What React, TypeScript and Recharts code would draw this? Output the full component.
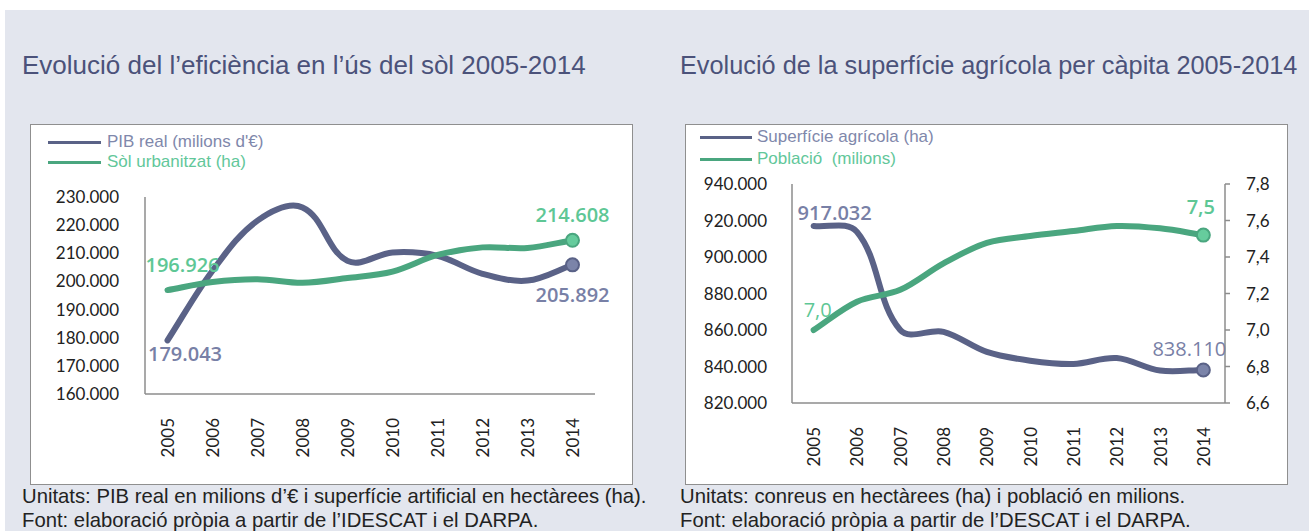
import React from 'react';
import { ComposedChart, Line, XAxis, YAxis } from 'recharts';

// ---------- data ----------
const years = ['2005', '2006', '2007', '2008', '2009', '2010', '2011', '2012', '2013', '2014'];

// left chart
const pibReal = [179043, 203800, 221600, 226300, 207300, 210300, 209100, 202700, 200300, 205892];
const solUrbanitzat = [196926, 199800, 200800, 199500, 201200, 203500, 209400, 212100, 211900, 214608];
const leftTicks = [160000, 170000, 180000, 190000, 200000, 210000, 220000, 230000];

// right chart
const superficieAgricola = [917032, 913800, 860000, 859000, 848000, 843200, 841400, 844600, 837800, 838110];
const poblacio = [7.0, 7.155, 7.22, 7.365, 7.478, 7.515, 7.542, 7.57, 7.557, 7.52];
const agriTicks = [820000, 840000, 860000, 880000, 900000, 920000, 940000];
const popTicks = [6.6, 6.8, 7.0, 7.2, 7.4, 7.6, 7.8];

const leftData = years.map((y, i) => ({ year: y, pib: pibReal[i], sol: solUrbanitzat[i] }));
const rightData = years.map((y, i) => ({ year: y, agri: superficieAgricola[i], pop: poblacio[i] }));

// ---------- styles ----------
const BLUE = '#5a6287';
const BLUE_DOT = '#7b84a9';
const BLUE_TXT = '#7880a6';
const GREEN = '#4aa67f';
const GREEN_DOT = '#66cc9d';
const GREEN_TXT = '#5ec795';
const AXIS = '#8c8c8c';
const TITLE = '#4b527a';

const thousands = (v: number) => String(Math.round(v)).replace(/\B(?=(\d{3})+(?!\d))/g, '.');
const comma1 = (v: number) => v.toFixed(1).replace('.', ',');

const tickStyle = { fontFamily: 'Lato, "Liberation Sans", sans-serif', fontSize: 17, fill: '#222' };

// Excel-like smoothed line: tangent direction from neighbours, control distance
// proportional to the chord length of each segment.
const smoothCurve: any = (context: any) => {
  let pts: [number, number][] = [];
  const dirAt = (i: number): [number, number] => {
    const a = pts[Math.max(0, i - 1)];
    const b = pts[Math.min(pts.length - 1, i + 1)];
    const dx = b[0] - a[0];
    const dy = b[1] - a[1];
    const L = Math.hypot(dx, dy) || 1;
    return [dx / L, dy / L];
  };
  return {
    areaStart() {},
    areaEnd() {},
    lineStart() {
      pts = [];
    },
    lineEnd() {
      if (!pts.length) return;
      context.moveTo(pts[0][0], pts[0][1]);
      const k = 1 / 3;
      for (let i = 0; i < pts.length - 1; i++) {
        const p1 = pts[i];
        const p2 = pts[i + 1];
        const d = Math.hypot(p2[0] - p1[0], p2[1] - p1[1]);
        const t1 = dirAt(i);
        const t2 = dirAt(i + 1);
        context.bezierCurveTo(
          p1[0] + t1[0] * d * k,
          p1[1] + t1[1] * d * k,
          p2[0] - t2[0] * d * k,
          p2[1] - t2[1] * d * k,
          p2[0],
          p2[1]
        );
      }
    },
    point(x: number, y: number) {
      pts.push([+x, +y]);
    },
  };
};

const YearTick = (props: any) => {
  const { x, y, payload } = props;
  return (
    <text
      transform={`translate(${x},${y}) rotate(-90)`}
      x={-24}
      y={0}
      textAnchor="end"
      dominantBaseline="central"
      style={tickStyle}
    >
      {payload.value}
    </text>
  );
};

type LblCfg = { dx: number; dy: number; text: string; weight: number };

const makeLabel = (series: number[], color: string, first: LblCfg, last: LblCfg) => (props: any) => {
  const { x, y, value } = props;
  const idx = typeof props.index === 'number' ? props.index : series.indexOf(value);
  if (idx !== 0 && idx !== series.length - 1) return null;
  const c = idx === 0 ? first : last;
  return (
    <text
      key={`lbl-${idx}`}
      x={x + c.dx}
      y={y + c.dy}
      textAnchor="middle"
      fill={color}
      style={{ fontFamily: '"Open Sans", "Noto Sans", sans-serif', fontSize: 20, fontWeight: c.weight }}
    >
      {c.text}
    </text>
  );
};

const makeDot = (n: number, fill: string, stroke: string) => (props: any) => {
  const { cx, cy, index } = props;
  if (index !== n - 1) return <g key={`d-${index}`} />;
  return <circle key={`d-${index}`} cx={cx} cy={cy} r={6.5} fill={fill} stroke={stroke} strokeWidth={2} />;
};

const LegendRow = ({ left, top, lineW, textX, color, textColor, label }: any) => (
  <div style={{ position: 'absolute', left: 0, top: top - 12, height: 24, width: 400 }}>
    <div style={{ position: 'absolute', left, top: 10.5, width: lineW, height: 3, background: color }} />
    <div
      style={{
        position: 'absolute',
        left: textX,
        top: 0,
        lineHeight: '24px',
        fontSize: 17,
        color: textColor,
        whiteSpace: 'pre',
        fontFamily: '"Liberation Sans", Arial, sans-serif',
      }}
    >
      {label}
    </div>
  </div>
);

const boxStyle = (left: number): React.CSSProperties => ({
  position: 'absolute',
  left,
  top: 124,
  width: 603,
  height: 361,
  background: '#fff',
  border: '1.5px solid #8f8f8f',
  boxSizing: 'border-box',
});

const titleStyle = (left: number, size: number): React.CSSProperties => ({
  position: 'absolute',
  left,
  top: 52,
  fontSize: size,
  lineHeight: '26px',
  color: TITLE,
  whiteSpace: 'nowrap',
  fontFamily: '"Liberation Sans", Arial, sans-serif',
});

const noteStyle = (left: number, top: number): React.CSSProperties => ({
  position: 'absolute',
  left,
  top,
  fontSize: 20.3,
  lineHeight: '24px',
  color: '#222',
  whiteSpace: 'nowrap',
  fontFamily: '"Liberation Sans", Arial, sans-serif',
});

export default function App() {
  return (
    <div
      style={{
        position: 'absolute',
        left: 0,
        top: 0,
        width: 1309,
        height: 531,
        background: '#fff',
        overflow: 'hidden',
      }}
    >
      <div style={{ position: 'absolute', left: 5, top: 10, right: 0, bottom: 0, background: '#e3e6ee' }} />

      <div style={titleStyle(22, 26)}>Evolució del l’eficiència en l’ús del sòl 2005-2014</div>
      <div style={titleStyle(680, 25.3)}>Evolució de la superfície agrícola per càpita 2005-2014</div>

      {/* left chart */}
      <div style={boxStyle(30)} />
      <div style={{ position: 'absolute', left: 30, top: 124, width: 603, height: 361 }}>
        <ComposedChart
          width={603}
          height={361}
          data={leftData}
          margin={{ top: 73, right: 38, bottom: 31, left: 0 }}
        >
          <XAxis
            dataKey="year"
            height={60}
            padding={{ left: 22.5, right: 22.5 }}
            tickLine={false}
            tickSize={0}
            tickMargin={0}
            axisLine={{ stroke: AXIS, strokeWidth: 1.5 }}
            tick={<YearTick />}
            interval={0}
          />
          <YAxis
            width={115}
            domain={[160000, 230000]}
            ticks={leftTicks}
            tickFormatter={thousands}
            tickLine={false}
            tickSize={0}
            tickMargin={26}
            axisLine={{ stroke: AXIS, strokeWidth: 1.5 }}
            tick={tickStyle}
            interval={0}
          />
          <Line
            dataKey="pib"
            type={smoothCurve}
            stroke={BLUE}
            strokeWidth={6}
            strokeLinecap="round"
            isAnimationActive={false}
            dot={makeDot(years.length, BLUE_DOT, BLUE)}
            activeDot={false}
            label={makeLabel(
              pibReal,
              BLUE_TXT,
              { dx: 17.5, dy: 21, text: thousands(pibReal[0]), weight: 600 },
              { dx: 0, dy: 37, text: thousands(pibReal[pibReal.length - 1]), weight: 600 }
            )}
          />
          <Line
            dataKey="sol"
            type={smoothCurve}
            stroke={GREEN}
            strokeWidth={6}
            strokeLinecap="round"
            isAnimationActive={false}
            dot={makeDot(years.length, GREEN_DOT, GREEN)}
            activeDot={false}
            label={makeLabel(
              solUrbanitzat,
              GREEN_TXT,
              { dx: 15, dy: -18, text: thousands(solUrbanitzat[0]), weight: 600 },
              { dx: 0, dy: -18, text: thousands(solUrbanitzat[solUrbanitzat.length - 1]), weight: 600 }
            )}
          />
        </ComposedChart>
        <LegendRow left={18} top={18} lineW={53} textX={77} color={BLUE} textColor="#7f88ab" label="PIB real (milions d'€)" />
        <LegendRow left={18} top={38} lineW={53} textX={77} color={GREEN} textColor="#62c79a" label="Sòl urbanitzat (ha)" />
      </div>

      {/* right chart */}
      <div style={boxStyle(685)} />
      <div style={{ position: 'absolute', left: 685, top: 124, width: 603, height: 361 }}>
        <ComposedChart
          width={603}
          height={361}
          data={rightData}
          margin={{ top: 60, right: 0, bottom: 22, left: 0 }}
        >
          <XAxis
            dataKey="year"
            height={60}
            padding={{ left: 21.65, right: 21.65 }}
            tickLine={false}
            tickSize={0}
            tickMargin={0}
            axisLine={{ stroke: AXIS, strokeWidth: 1.5 }}
            tick={<YearTick />}
            interval={0}
          />
          <YAxis
            yAxisId="left"
            width={107}
            domain={[820000, 940000]}
            ticks={agriTicks}
            tickFormatter={thousands}
            tickLine={false}
            tickSize={0}
            tickMargin={25}
            axisLine={{ stroke: AXIS, strokeWidth: 1.5 }}
            tick={tickStyle}
            interval={0}
          />
          <YAxis
            yAxisId="right"
            orientation="right"
            width={63}
            domain={[6.6, 7.8]}
            ticks={popTicks}
            tickFormatter={comma1}
            tickLine={{ stroke: AXIS, strokeWidth: 1.5 }}
            tickSize={5}
            tickMargin={16}
            axisLine={{ stroke: AXIS, strokeWidth: 1.5 }}
            tick={tickStyle}
            interval={0}
          />
          <Line
            yAxisId="left"
            dataKey="agri"
            type={smoothCurve}
            stroke={BLUE}
            strokeWidth={6}
            strokeLinecap="round"
            isAnimationActive={false}
            dot={makeDot(years.length, BLUE_DOT, BLUE)}
            activeDot={false}
            label={makeLabel(
              superficieAgricola,
              BLUE_TXT,
              { dx: 21, dy: -6, text: thousands(superficieAgricola[0]), weight: 600 },
              { dx: -14, dy: -14, text: thousands(superficieAgricola[superficieAgricola.length - 1]), weight: 500 }
            )}
          />
          <Line
            yAxisId="right"
            dataKey="pop"
            type={smoothCurve}
            stroke={GREEN}
            strokeWidth={6}
            strokeLinecap="round"
            isAnimationActive={false}
            dot={makeDot(years.length, GREEN_DOT, GREEN)}
            activeDot={false}
            label={makeLabel(
              poblacio,
              GREEN_TXT,
              { dx: 4, dy: -13, text: comma1(poblacio[0]), weight: 500 },
              { dx: -2.5, dy: -21, text: '7,5', weight: 600 }
            )}
          />
        </ComposedChart>
        <LegendRow left={15} top={13} lineW={52} textX={72} color={BLUE} textColor="#7f88ab" label="Superfície agrícola (ha)" />
        <LegendRow left={15} top={35} lineW={52} textX={72} color={GREEN} textColor="#62c79a" label="Població  (milions)" />
      </div>

      <div style={noteStyle(22, 484)}>Unitats: PIB real en milions d’€ i superfície artificial en hectàrees (ha).</div>
      <div style={noteStyle(22, 508)}>Font: elaboració pròpia a partir de l’IDESCAT i el DARPA.</div>
      <div style={noteStyle(680, 484)}>Unitats: conreus en hectàrees (ha) i població en milions.</div>
      <div style={noteStyle(680, 508)}>Font: elaboració pròpia a partir de l’DESCAT i el DARPA.</div>
    </div>
  );
}
